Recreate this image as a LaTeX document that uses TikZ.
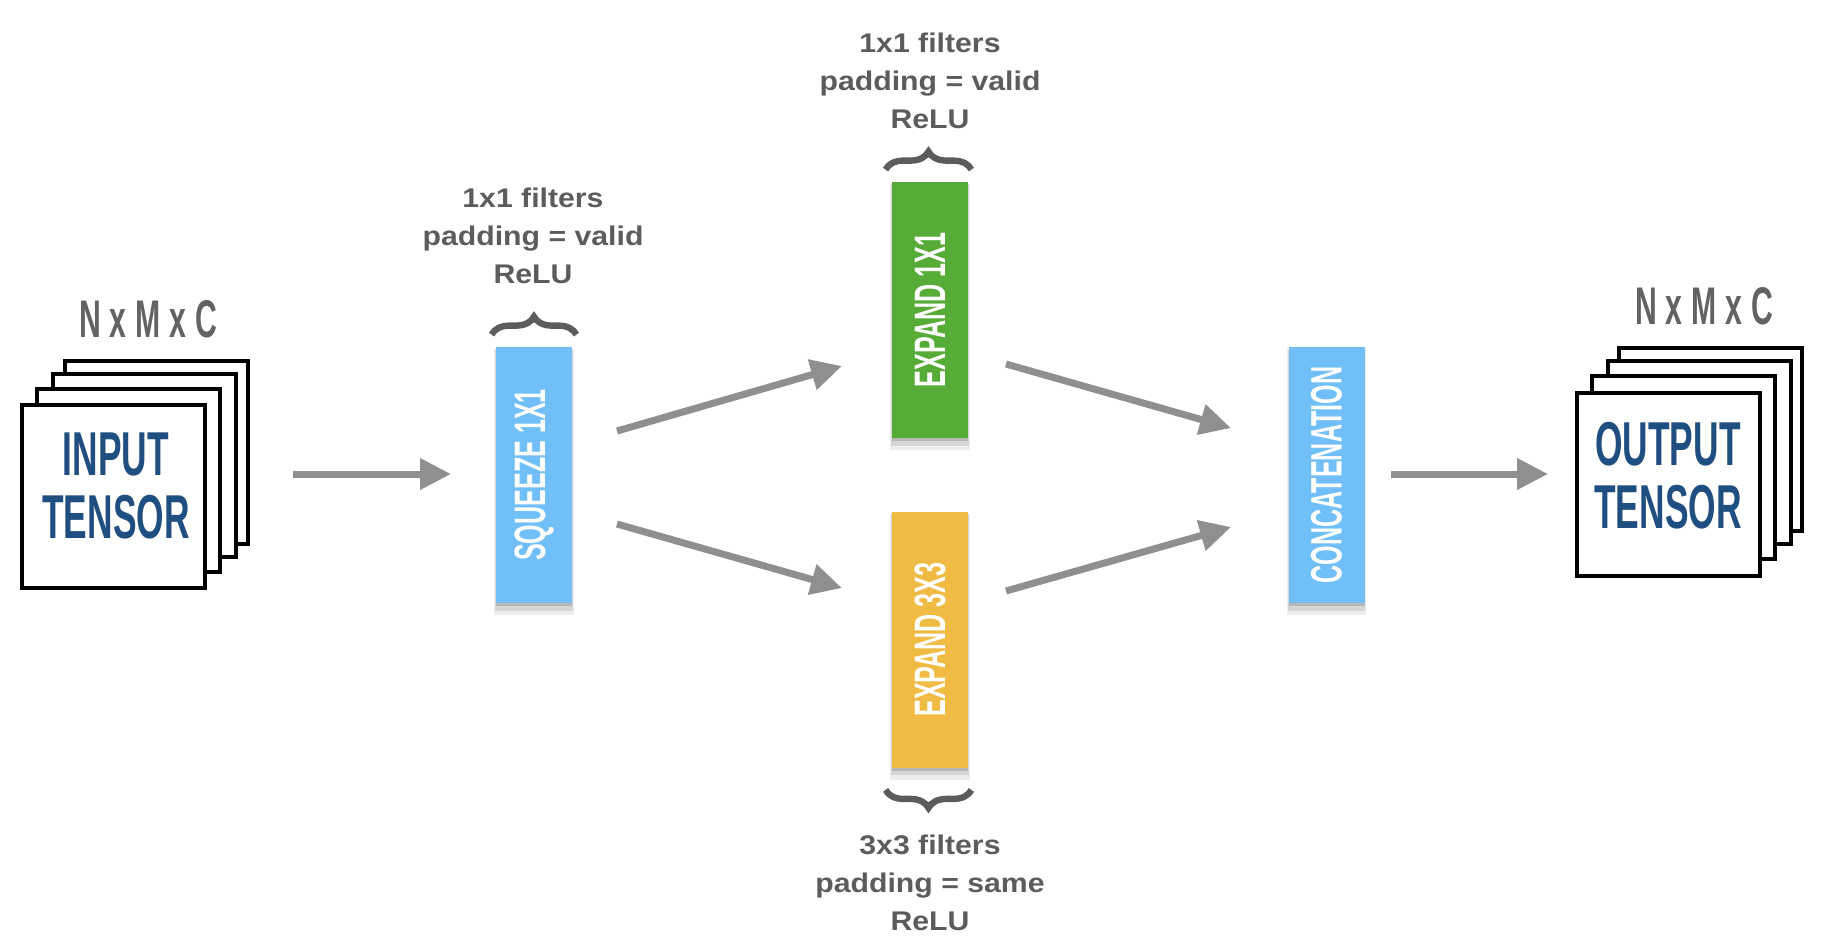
\documentclass[tikz,border=0pt]{standalone}
\usepackage{fontspec}
\setmainfont{Liberation Sans}
\newfontfamily\condfont[FakeStretch=0.57]{Liberation Sans}
\newfontfamily\labfont[FakeStretch=1.12]{Liberation Sans}
\usetikzlibrary{arrows.meta,shadows,decorations.pathreplacing,calc}
\definecolor{lblue}{HTML}{70BFF8}
\definecolor{egreen}{HTML}{56AC37}
\definecolor{eyellow}{HTML}{F0BB43}
\definecolor{tblue}{HTML}{1F4E80}
\definecolor{arrgray}{HTML}{8F8F8F}
\definecolor{labgray}{HTML}{5C5C5C}
\definecolor{dimgray}{HTML}{636363}
\tikzset{
  sheet/.style={draw=black, line width=2pt, fill=white, minimum width=91.5pt, minimum height=91.5pt, inner sep=0pt},
  tensortext/.style={text=tblue, font=\condfont\bfseries\fontsize{31}{31.5}\selectfont, align=center, inner sep=0pt},
  dimtext/.style={text=dimgray, font=\condfont\bfseries\fontsize{26.5}{28}\selectfont, inner sep=0pt},
  layerbox/.style={minimum width=38pt, minimum height=128pt, inner sep=0pt, text=white,
     font=\condfont\bfseries\fontsize{22}{22}\selectfont,
     drop shadow={shadow xshift=0pt, shadow yshift=-3.5pt, shadow scale=1.04, opacity=0.07, fill=black},
     drop shadow={shadow xshift=0pt, shadow yshift=-2.5pt, shadow scale=1.02, opacity=0.10, fill=black},
     drop shadow={shadow xshift=0pt, shadow yshift=-1.5pt, opacity=0.14, fill=black}},
  arr/.style={draw=arrgray, line width=3.5pt, -{Triangle[length=15.5pt,width=15pt]}},
  bracestyle/.style={draw=labgray, line width=3.2pt, decorate, decoration={brace, amplitude=9pt}},
  labtext/.style={text=labgray, font=\labfont\bfseries\fontsize{13.5}{19}\selectfont, align=center, inner sep=0pt}
}
\begin{document}
\begin{tikzpicture}[x=0.5pt,y=-0.5pt]
\useasboundingbox (0,0) rectangle (1822,950);
% input tensor stack
\node[sheet] (in4) at (156.5,452) {};
\node[sheet] (in3) at (144,465) {};
\node[sheet] (in2) at (128.5,480) {};
\node[sheet] (in1) at (113.5,496.5) {};
\node[tensortext] (intext) at (116,485.5) {INPUT\\TENSOR};
\node[dimtext] (indim) at (148,319) {N\,x\,M\,x\,C};
% output tensor stack
\node[sheet] (out4) at (1710.5,439.5) {};
\node[sheet] (out3) at (1699.5,452) {};
\node[sheet] (out2) at (1683.5,467) {};
\node[sheet] (out1) at (1668,484.5) {};
\node[tensortext] (outtext) at (1668,476) {OUTPUT\\TENSOR};
\node[dimtext] (outdim) at (1704,306.5) {N\,x\,M\,x\,C};
% layers
\node[layerbox, fill=lblue] (sq) at (534,475) {\rotatebox{90}{SQUEEZE 1X1}};
\node[layerbox, fill=egreen] (e1) at (930,310) {\rotatebox{90}{EXPAND 1X1}};
\node[layerbox, fill=eyellow] (e3) at (930,639.5) {\rotatebox{90}{EXPAND 3X3}};
\node[layerbox, fill=lblue] (cat) at (1326.5,475) {\rotatebox{90}{CONCATENATION}};
% braces
\draw[bracestyle] ($(sq.north west)+(-4,-12)$) -- ($(sq.north east)+(4,-12)$);
\draw[bracestyle] ($(e1.north west)+(-6,-12)$) -- ($(e1.north east)+(3,-12)$);
\draw[bracestyle] ($(e3.south east)+(3,22)$) -- ($(e3.south west)+(-6,22)$);
% labels
\node[labtext] (sqlab) at (533,236) {1x1 filters\\padding = valid\\ReLU};
\node[labtext] (e1lab) at (930,81) {1x1 filters\\padding = valid\\ReLU};
\node[labtext] (e3lab) at (930,883) {3x3 filters\\padding = same\\ReLU};
% arrows
\coordinate (a1s) at (293,474); \coordinate (a1e) at (451,474);
\coordinate (a2s) at (617,431); \coordinate (a2e) at (842,366);
\coordinate (a3s) at (617,524); \coordinate (a3e) at (842,588);
\coordinate (a4s) at (1006,364); \coordinate (a4e) at (1231,428);
\coordinate (a5s) at (1006,591); \coordinate (a5e) at (1231,527);
\coordinate (a6s) at (1391,474); \coordinate (a6e) at (1548,474);
\draw[arr] (a1s) -- (a1e);
\draw[arr] (a2s) -- (a2e);
\draw[arr] (a3s) -- (a3e);
\draw[arr] (a4s) -- (a4e);
\draw[arr] (a5s) -- (a5e);
\draw[arr] (a6s) -- (a6e);
\end{tikzpicture}
\end{document}
